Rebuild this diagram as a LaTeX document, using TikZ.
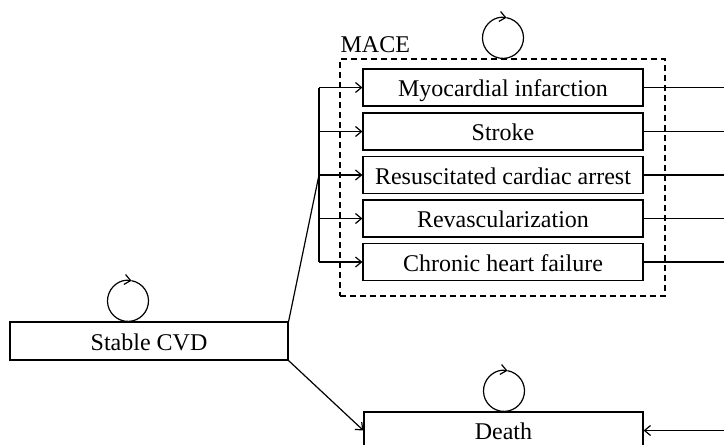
\documentclass[tikz,border=0pt]{standalone}
\usepackage{fontspec}
\setmainfont{Liberation Serif}
\usetikzlibrary{arrows.meta,calc}
\begin{document}
\begin{tikzpicture}[x=1pt,y=-1pt,line width=1.2pt,
  box/.style={draw,minimum width=280pt,minimum height=37pt,inner sep=0pt,
    text height=18pt,text depth=0pt,font=\fontsize{24}{28}\selectfont},
  arr/.style={-{Straight Barb[length=6pt,width=10pt]}},
  macebox/.style={draw,dash pattern=on 6pt off 4pt,line width=1.2pt,inner sep=0pt},
  lbl/.style={inner sep=0pt,font=\fontsize{24}{28}\selectfont}]
\clip (0,0) rectangle (724,445);
% states
\node[box,minimum width=278pt,minimum height=38pt] (cvd) at (149,341) {Stable CVD};
\node[box] (mi)  at (503,87.5)  {Myocardial infarction};
\node[box] (st)  at (503,131.5) {Stroke};
\node[box] (rca) at (503,175)   {Resuscitated cardiac arrest};
\node[box] (rev) at (503,218.5) {Revascularization};
\node[box] (chf) at (503,262)   {Chronic heart failure};
\node[box,minimum width=279pt] (death) at (503.5,430.5) {Death};
\node[macebox,minimum width=325pt,minimum height=237pt] (mace) at (502.5,177.5) {};
\node[lbl,anchor=base west] (macelbl) at (340,52) {MACE};
% bus
\coordinate (bx) at (319,0);
\coordinate (rx) at (730,0);
\draw (bx |- mi.west) -- (bx |- chf.west);
\foreach \n in {mi,st,rca,rev,chf}{
  \draw[arr] (bx |- \n.west) -- (\n.west);
  \draw (\n.east) -- (rx |- \n.east);
}
\draw (cvd.north east) -- (bx |- rca.west);
\draw[arr] (cvd.south east) -- (death.west);
\draw[arr] (rx |- death.east) -- (death.east);
% self loops
\coordinate (lc1) at ($(cvd.north)+(-21,-20.5)$);
\coordinate (lc2) at ($(mace.north)+(0.5,-20.5)$);
\coordinate (lc3) at ($(death.north)+(0.5,-20.5)$);
\foreach \c in {lc1,lc2,lc3}{
  \draw[arr] (\c) ++(-80:20.5) arc[start angle=-80,end angle=280,radius=20.5];
}
\end{tikzpicture}
\end{document}
